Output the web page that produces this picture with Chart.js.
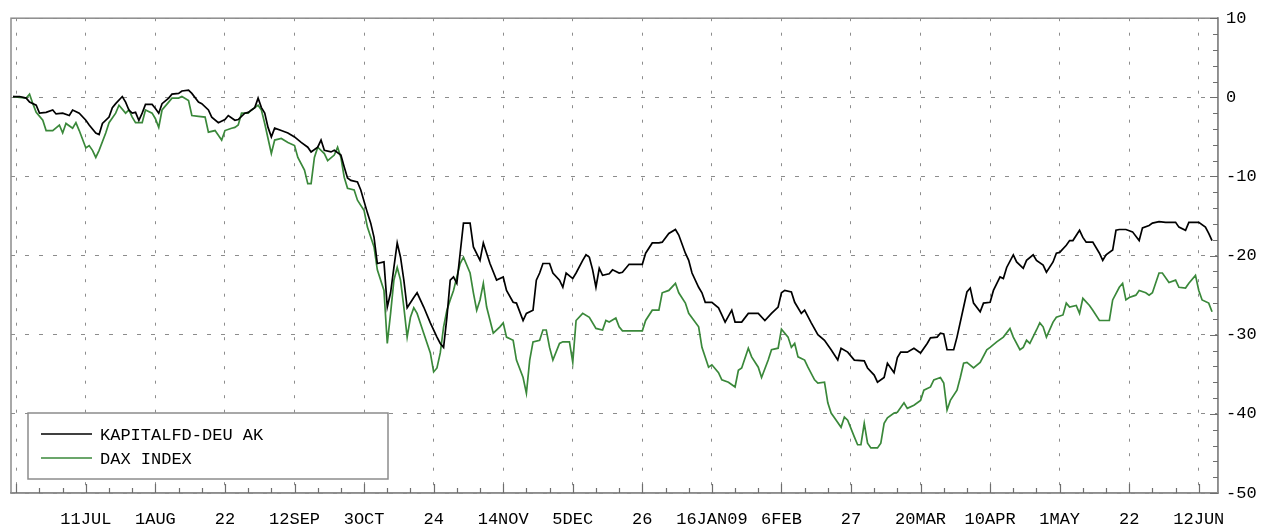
<!DOCTYPE html>
<html>
<head>
<meta charset="utf-8">
<script src="https://cdn.jsdelivr.net/npm/chart.js@4.4.0/dist/chart.umd.min.js"></script>
<style>
  body { margin: 0; background: #fff; }
</style>
</head>
<body>
<canvas id="chart" width="1263" height="524"></canvas>
<script>
// x values are calendar days counted from 20 Jun 2008, y values are % change
var tickLabels = ["", "11JUL", "1AUG", "22", "12SEP", "3OCT", "24", "14NOV", "5DEC", "26", "16JAN09", "6FEB", "27", "20MAR", "10APR", "1MAY", "22", "12JUN"];

var kapDays = [-1, 1, 3, 4, 6, 7, 9, 11, 12, 14, 16, 17, 19, 21, 22, 24, 25, 26, 28, 29, 30, 32, 33, 34, 35, 36, 37, 38, 39, 41,
  42, 43, 44, 46, 47, 49, 50, 52, 53, 55, 56, 58, 59, 61, 63, 64, 66, 67, 69, 70, 72, 73, 74, 75, 76, 77, 78, 80, 82, 84,
  86, 88, 89, 91, 92, 93, 95, 96, 98, 99, 100, 101, 103, 104, 106, 107, 108, 109, 111, 112, 113, 114, 115, 116, 117, 118, 120, 121, 123, 125,
  127, 128, 129, 130, 131, 132, 133, 134, 135, 137, 138, 140, 141, 143, 145, 147, 148, 150, 151, 153, 154, 156, 157, 158, 159, 161, 162, 164, 165, 166,
  168, 169, 171, 172, 173, 174, 175, 176, 177, 179, 180, 182, 183, 185, 189, 190, 192, 194, 195, 197, 199, 200, 202, 203, 204, 206, 207, 208, 210, 212,
  213, 214, 216, 217, 219, 221, 224, 226, 228, 230, 231, 232, 234, 235, 237, 238, 240, 242, 244, 246, 248, 249, 251, 253, 256, 257, 259, 260, 262, 263,
  265, 266, 267, 269, 271, 273, 275, 276, 278, 279, 280, 281, 283, 284, 286, 287, 288, 289, 291, 292, 294, 295, 297, 298, 299, 301, 302, 304, 305, 307,
  308, 310, 311, 313, 314, 315, 317, 318, 319, 321, 322, 323, 325, 327, 328, 329, 331, 332, 333, 335, 337, 339, 340, 342, 343, 345, 347, 350, 351, 353,
  354, 357, 359, 360, 361];
var kapValues = [0.1, 0.1, -0.1, -0.6, -1.0, -2.0, -1.9, -1.6, -2.1, -2.0, -2.3, -1.6, -2.0, -2.9, -3.5, -4.5, -4.7, -3.3, -2.5, -1.3, -0.8, 0.1, -0.6, -1.6, -2.0, -1.9, -2.9, -2.0, -0.9, -0.9,
  -1.4, -2.0, -0.8, -0.1, 0.4, 0.5, 0.8, 0.9, 0.5, -0.6, -0.8, -1.6, -2.5, -3.2, -2.8, -2.3, -2.9, -2.8, -2.0, -1.9, -1.3, -0.1, -1.3, -2.0, -3.8, -5.0, -3.9, -4.2, -4.5, -5.0,
  -5.7, -6.3, -6.9, -6.3, -5.4, -6.7, -6.9, -6.7, -7.3, -8.8, -10.2, -10.5, -10.7, -11.7, -14.6, -15.9, -17.7, -21.0, -20.8, -26.5, -24.7, -21.5, -18.4, -20.2, -23.1, -26.6, -25.3, -24.7, -26.5, -28.5,
  -30.3, -31.1, -31.6, -27.8, -23.1, -22.7, -23.5, -19.7, -15.9, -15.9, -18.9, -20.6, -18.4, -21.0, -23.1, -22.7, -24.4, -25.9, -26.0, -28.2, -27.3, -26.9, -23.1, -22.2, -21.0, -21.0, -22.2, -23.1, -24.0, -22.2,
  -22.9, -22.2, -20.6, -19.9, -20.2, -21.8, -24.0, -21.6, -22.5, -22.3, -21.8, -22.2, -22.1, -21.1, -21.1, -19.7, -18.4, -18.4, -18.3, -17.2, -16.7, -17.4, -19.7, -20.6, -22.2, -24.0, -24.7, -25.9, -25.9, -26.6,
  -27.5, -28.4, -26.9, -28.4, -28.4, -27.3, -27.3, -28.2, -27.3, -26.5, -24.7, -24.4, -24.6, -25.9, -27.3, -26.9, -28.5, -30.0, -30.7, -31.9, -33.2, -31.7, -32.2, -33.2, -33.3, -34.2, -35.1, -36.0, -35.4, -33.6,
  -34.8, -32.9, -32.2, -32.2, -31.7, -32.3, -31.1, -30.4, -30.3, -29.8, -29.9, -31.9, -31.9, -30.3, -26.5, -24.6, -24.1, -26.0, -27.1, -26.0, -25.9, -24.4, -22.7, -22.9, -21.5, -19.9, -20.8, -21.6, -20.6, -19.9,
  -20.6, -21.2, -22.1, -20.8, -19.7, -19.6, -18.7, -18.1, -18.1, -16.8, -17.7, -18.3, -18.3, -19.7, -20.6, -19.9, -19.3, -16.8, -16.7, -16.7, -17.0, -18.1, -16.5, -16.2, -15.9, -15.7, -15.8, -15.8, -16.4, -16.8,
  -15.8, -15.8, -16.4, -17.2, -18.1];

var daxDays = [-1, 1, 3, 4, 5, 6, 8, 9, 11, 13, 14, 15, 17, 18, 19, 21, 22, 23, 24, 25, 27, 28, 30, 31, 33, 34, 35, 36, 38, 39,
  41, 42, 43, 44, 46, 47, 49, 50, 52, 53, 55, 57, 58, 60, 61, 62, 63, 65, 66, 67, 68, 70, 71, 72, 73, 74, 75, 76, 77, 78,
  80, 82, 84, 85, 87, 88, 89, 90, 91, 93, 94, 96, 97, 98, 99, 100, 102, 103, 105, 106, 108, 109, 111, 112, 113, 114, 115, 116, 117, 118,
  119, 120, 121, 123, 125, 126, 127, 128, 129, 130, 131, 132, 134, 135, 137, 138, 139, 140, 141, 142, 144, 146, 147, 148, 150, 151, 153, 154, 155, 156,
  158, 159, 160, 161, 162, 164, 165, 167, 168, 169, 171, 173, 175, 177, 178, 179, 181, 182, 183, 189, 190, 192, 194, 195, 197, 199, 200, 202, 203, 206,
  207, 209, 210, 212, 213, 215, 217, 218, 219, 221, 222, 224, 225, 227, 228, 230, 231, 233, 234, 235, 236, 238, 239, 241, 242, 244, 245, 246, 247, 249,
  250, 251, 253, 254, 255, 256, 257, 258, 260, 261, 262, 263, 265, 266, 268, 269, 271, 273, 274, 276, 277, 279, 280, 281, 282, 284, 285, 286, 287, 289,
  291, 293, 294, 296, 298, 300, 301, 303, 304, 305, 306, 308, 309, 310, 311, 313, 314, 316, 317, 318, 320, 321, 322, 324, 325, 327, 330, 331, 333, 334,
  335, 336, 338, 339, 341, 342, 343, 345, 346, 348, 350, 351, 353, 354, 356, 357, 358, 360, 361];
var daxValues = [0.1, 0.0, -0.1, 0.4, -0.8, -1.9, -2.9, -4.2, -4.2, -3.5, -4.5, -3.3, -3.9, -3.2, -4.2, -6.4, -6.1, -6.7, -7.6, -6.7, -4.5, -3.2, -2.0, -1.0, -2.0, -1.6, -2.5, -3.2, -3.2, -1.6,
  -2.0, -2.7, -3.8, -1.6, -0.6, -0.1, -0.1, 0.1, -0.4, -2.3, -2.4, -2.5, -4.4, -4.2, -4.8, -5.4, -4.2, -3.9, -3.8, -3.5, -2.0, -2.0, -1.6, -1.3, -1.0, -1.6, -3.3, -5.2, -7.1, -5.4,
  -5.2, -5.7, -6.1, -7.6, -9.2, -10.9, -10.9, -7.6, -6.3, -7.1, -8.0, -7.3, -6.3, -7.6, -10.1, -11.5, -11.7, -13.0, -14.3, -16.4, -18.9, -21.8, -24.4, -31.1, -27.3, -23.1, -21.5, -23.1, -26.5, -30.3,
  -27.8, -26.6, -27.3, -29.8, -32.3, -34.7, -34.2, -32.3, -29.0, -26.9, -25.6, -24.4, -21.0, -20.2, -22.2, -24.7, -26.9, -25.6, -23.5, -26.5, -29.8, -29.0, -28.5, -30.3, -30.7, -33.2, -35.4, -37.4, -33.2, -30.9,
  -30.7, -29.4, -29.4, -31.6, -33.2, -31.1, -30.9, -30.9, -33.5, -28.2, -27.3, -27.8, -29.2, -29.4, -28.2, -28.4, -27.9, -29.0, -29.5, -29.5, -28.2, -26.9, -26.9, -24.7, -24.4, -23.5, -24.7, -26.0, -27.3, -29.0,
  -31.6, -34.1, -33.8, -34.8, -35.7, -36.0, -36.6, -34.5, -34.2, -31.7, -32.8, -34.1, -35.4, -33.2, -31.9, -31.7, -29.3, -30.3, -31.6, -31.1, -32.8, -33.2, -34.1, -35.7, -36.1, -36.0, -38.6, -39.9, -40.5, -41.7,
  -40.4, -40.8, -42.9, -43.9, -43.9, -41.2, -43.7, -44.3, -44.3, -43.7, -41.2, -40.5, -39.9, -39.8, -38.6, -39.3, -38.9, -38.3, -37.0, -36.6, -35.7, -35.4, -36.1, -39.5, -38.3, -37.0, -35.4, -33.6, -33.5, -34.2,
  -33.5, -31.9, -31.6, -30.9, -30.3, -29.2, -30.3, -31.9, -31.6, -30.7, -31.1, -29.4, -28.5, -29.0, -30.3, -28.4, -27.8, -27.5, -26.0, -26.5, -26.3, -27.3, -25.4, -26.3, -26.9, -28.2, -28.2, -25.6, -24.0, -23.5,
  -25.6, -25.3, -25.0, -24.4, -24.7, -25.0, -24.7, -22.2, -22.2, -23.4, -23.1, -24.0, -24.1, -23.5, -22.5, -24.4, -25.6, -26.0, -27.1];

var axisGray = '#8c8c8c';
var labelFont = { family: '"Liberation Mono", "DejaVu Sans Mono", monospace', size: 17 };

function toPoints(days, values) {
    return days.map(function(d, i) { return { x: d, y: values[i] }; });
}

// frame round the plot plus the small inward tick marks
var frameTicks = {
    id: 'frameTicks',
    afterDraw: function(chart) {
        var ctx = chart.ctx, area = chart.chartArea;
        var xs = chart.scales.x, ys = chart.scales.y;
        ctx.save();
        ctx.setLineDash([]);
        ctx.strokeStyle = axisGray;
        ctx.lineWidth = 1.5;
        ctx.strokeRect(area.left, area.top, area.right - area.left, area.bottom - area.top);
        ctx.strokeStyle = '#6e6e6e';
        ctx.lineWidth = 1.2;
        ctx.beginPath();
        for (var d = 0; d <= xs.max; d += 7) {
            var px = Math.round(xs.getPixelForValue(d)) + 0.5;
            var len = (d % 21 === 0) ? 9 : 5;
            ctx.moveTo(px, area.bottom);
            ctx.lineTo(px, area.bottom - len);
        }
        for (var v = ys.min; v <= ys.max; v += 2) {
            var py = Math.round(ys.getPixelForValue(v)) + 0.5;
            var len2 = (v % 10 === 0) ? 8 : 5;
            ctx.moveTo(area.right, py);
            ctx.lineTo(area.right - len2, py);
        }
        ctx.stroke();
        ctx.restore();
    }
};

// legend box in the lower left corner of the plot
var boxLegend = {
    id: 'boxLegend',
    afterDraw: function(chart) {
        var ctx = chart.ctx, area = chart.chartArea;
        var left = area.left + 17, top = area.bottom - 80, w = 360, h = 66;
        ctx.save();
        ctx.setLineDash([]);
        ctx.fillStyle = '#fff';
        ctx.fillRect(left, top, w, h);
        ctx.strokeStyle = axisGray;
        ctx.lineWidth = 1.5;
        ctx.strokeRect(left, top, w, h);
        ctx.font = labelFont.size + 'px ' + labelFont.family;
        ctx.textBaseline = 'middle';
        chart.data.datasets.forEach(function(ds, i) {
            var y = top + 21 + i * 24;
            ctx.strokeStyle = ds.borderColor;
            ctx.lineWidth = 1.5;
            ctx.beginPath();
            ctx.moveTo(left + 13, y);
            ctx.lineTo(left + 64, y);
            ctx.stroke();
            ctx.fillStyle = '#000';
            ctx.fillText(ds.label, left + 72, y + 1);
        });
        ctx.restore();
    }
};

var ctx = document.getElementById('chart').getContext('2d');
var myChart = new Chart(ctx, {
    type: 'line',
    data: {
        datasets: [
            {
                label: 'KAPITALFD-DEU AK',
                data: toPoints(kapDays, kapValues),
                borderColor: '#000000',
                borderWidth: 1.7,
                pointRadius: 0,
                tension: 0
            },
            {
                label: 'DAX INDEX',
                data: toPoints(daxDays, daxValues),
                borderColor: '#3a883a',
                borderWidth: 1.7,
                pointRadius: 0,
                tension: 0
            }
        ]
    },
    options: {
        responsive: false,
        animation: false,
        layout: { padding: { left: 11, top: 18, right: 0, bottom: 0 } },
        plugins: {
            legend: { display: false },
            tooltip: { enabled: false }
        },
        scales: {
            x: {
                type: 'linear',
                min: -1.6,
                max: 362.8,
                afterBuildTicks: function(scale) {
                    scale.ticks = tickLabels.map(function(l, i) { return { value: i * 21 }; });
                },
                afterFit: function(scale) { scale.height = 31; },
                ticks: {
                    autoSkip: false,
                    maxRotation: 0,
                    padding: 16,
                    color: '#000',
                    font: labelFont,
                    callback: function(value) { return tickLabels[Math.round(value / 21)]; }
                },
                grid: { color: axisGray, lineWidth: 1, drawTicks: false },
                border: { color: axisGray, width: 1.5, dash: [3, 11.5] }
            },
            y: {
                position: 'right',
                min: -50,
                max: 10,
                afterFit: function(scale) { scale.width = 45; },
                ticks: {
                    stepSize: 10,
                    padding: 8,
                    color: '#000',
                    font: labelFont
                },
                grid: { color: axisGray, lineWidth: 1, drawTicks: false },
                border: { color: axisGray, width: 1.5, dash: [4, 10] }
            }
        }
    },
    plugins: [frameTicks, boxLegend]
});
</script>
</body>
</html>
